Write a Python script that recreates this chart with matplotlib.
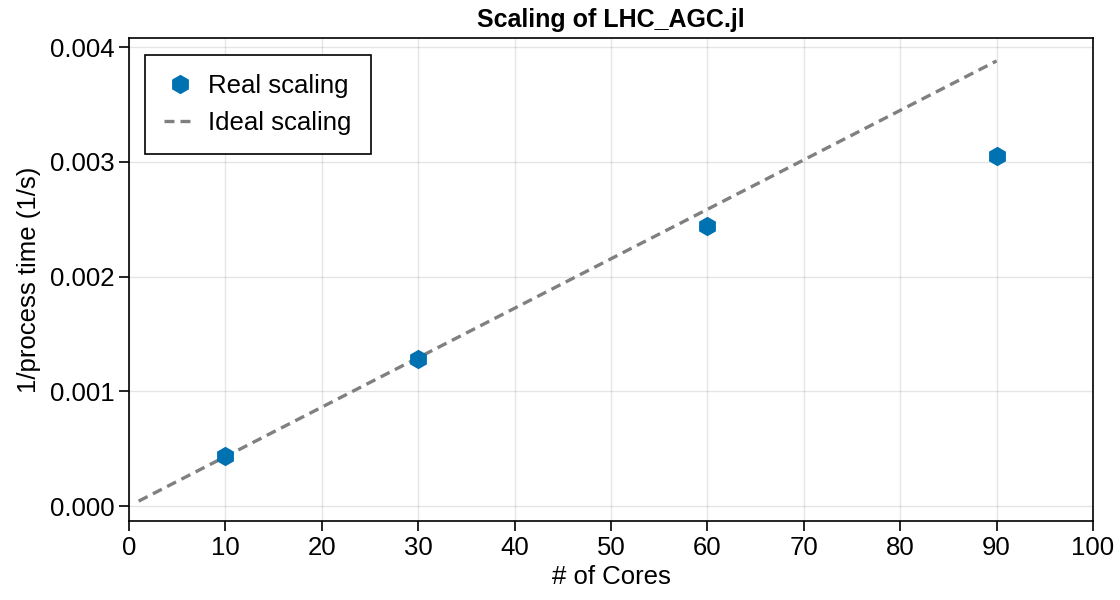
import matplotlib
matplotlib.use("Agg")
import matplotlib.pyplot as plt

# measured scaling points
cores = [10, 30, 60, 90]
inv_time = [0.000436, 0.00128, 0.00244, 0.00305]

# ideal scaling line endpoints
ideal_cores = [1, 90]
ideal_inv_time = [0.0000431, 0.00388]

x_ticks = [0, 10, 20, 30, 40, 50, 60, 70, 80, 90, 100]
y_ticks = [0.000, 0.001, 0.002, 0.003, 0.004]

plt.rcParams['font.family'] = ['Liberation Sans', 'DejaVu Sans']

fig = plt.figure(figsize=(11.2, 6), dpi=100)
ax = fig.add_axes([0.1152, 0.1317, 0.8607, 0.805])

ax.plot(cores, inv_time, linestyle='none', marker='h', markersize=14,
        color='#0072B2', markeredgewidth=0, label='Real scaling', zorder=3)
ax.plot(ideal_cores, ideal_inv_time, linestyle=(0, (3.0, 1.8)), linewidth=2.4,
        color='#808080', label='Ideal scaling', zorder=2)

ax.set_xlim(0, 100)
ax.set_ylim(-0.00013, 0.00408)
ax.set_xticks(x_ticks)
ax.set_yticks(y_ticks)
ax.set_yticklabels([f"{v:.3f}" for v in y_ticks])
ax.grid(True, color='#000000', alpha=0.1, linewidth=1)
ax.set_axisbelow(True)
ax.tick_params(labelsize=18.5, length=7.5, width=1.2, direction='out', pad=3)
for s in ax.spines.values():
    s.set_linewidth(1.2)

ax.set_xlabel('# of Cores', fontsize=18.5, labelpad=4)
ax.set_ylabel('1/process time (1/s)', fontsize=18.5, labelpad=6)
ax.set_title('Scaling of LHC_AGC.jl', fontsize=18, fontweight='bold', pad=8)

leg = ax.legend(loc='upper left', fontsize=18.5, frameon=True, fancybox=False,
                edgecolor='black', framealpha=1, borderpad=0.75,
                handlelength=1.25, handletextpad=0.45, labelspacing=0.5,
                borderaxespad=0, bbox_to_anchor=(0.0166, 0.965))
leg.get_frame().set_linewidth(1.2)

fig.savefig('out.png', dpi=100)
